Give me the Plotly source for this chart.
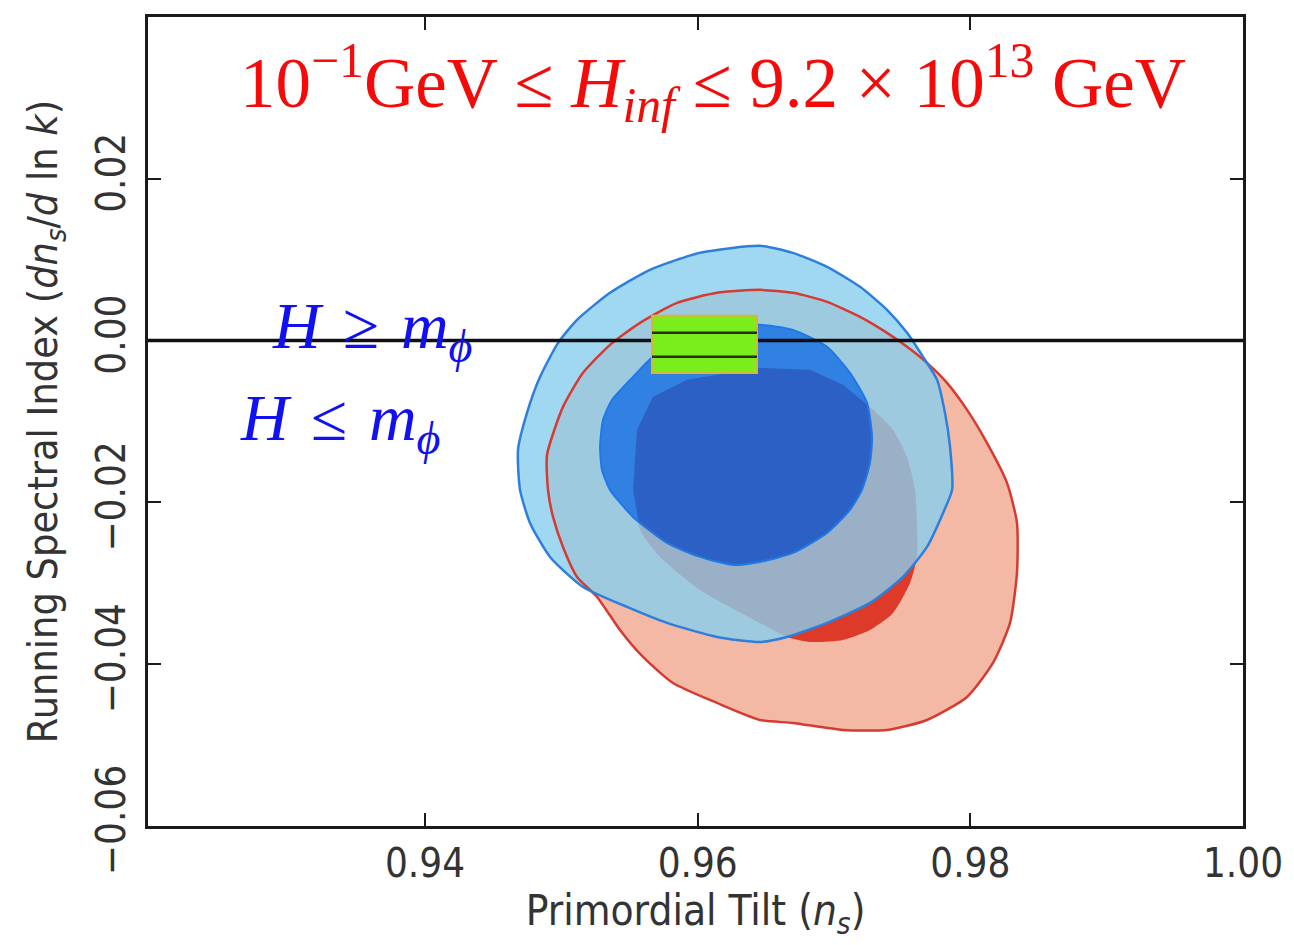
import plotly.graph_objects as go

# ---------------- data ----------------
# Outer (95%) contour of the red data set
red_outer_x = [0.96142, 0.96457, 0.96699, 0.96949, 0.97191, 0.97389, 0.97536, 0.97682,
               0.97829, 0.97976, 0.98122, 0.98269, 0.98342, 0.98342, 0.98291, 0.98166,
               0.97976, 0.97682, 0.97389, 0.97066, 0.96699, 0.96457, 0.96142, 0.95819,
               0.95599, 0.95430, 0.95262, 0.95115, 0.95012, 0.94939, 0.94902, 0.94895,
               0.95012, 0.95159, 0.95357, 0.95577, 0.95848]
red_outer_y = [0.005904, 0.006275, 0.005904, 0.004791, 0.002937, 0.000958, -0.000773, -0.002751,
               -0.005224, -0.008563, -0.012643, -0.017589, -0.022535, -0.028718, -0.034900, -0.039846,
               -0.044050, -0.046894, -0.048131, -0.048131, -0.047265, -0.046894, -0.044792, -0.042319,
               -0.039104, -0.035766, -0.031685, -0.029212, -0.025503, -0.021793, -0.018455, -0.014127,
               -0.008192, -0.003988, -0.000526, 0.002195, 0.004668]

# Inner (68%) contour of the red data set
red_inner_x = [0.95526, 0.95555, 0.95672, 0.95922, 0.96259, 0.96457, 0.96824, 0.97066,
               0.97264, 0.97433, 0.97536, 0.97594, 0.97609, 0.97609, 0.97558, 0.97433,
               0.97264, 0.97066, 0.96824, 0.96655, 0.96457, 0.96017, 0.95724, 0.95577]
red_inner_y = [-0.018455, -0.011036, -0.006955, -0.004853, -0.003864, -0.003369, -0.003617, -0.005472,
               -0.008192, -0.011036, -0.014374, -0.018455, -0.022783, -0.026739, -0.029954, -0.033664,
               -0.035766, -0.037002, -0.037250, -0.036631, -0.034900, -0.030820, -0.026739, -0.023401]

# Outer (95%) contour of the blue data set
blue_outer_x = [0.96017, 0.96457, 0.96699, 0.96949, 0.97191, 0.97389, 0.97536, 0.97653,
                0.97756, 0.97814, 0.97851, 0.97866, 0.97800, 0.97682, 0.97506, 0.97264,
                0.96949, 0.96655, 0.96457, 0.96142, 0.95775, 0.95482, 0.95159, 0.94917,
                0.94770, 0.94697, 0.94682, 0.94748, 0.94844, 0.94976, 0.95115, 0.95357,
                0.95650]
blue_outer_y = [0.010850, 0.011716, 0.010850, 0.009119, 0.006646, 0.003802, 0.000958, -0.002009,
                -0.004853, -0.008934, -0.013138, -0.018455, -0.021299, -0.025503, -0.029212, -0.032427,
                -0.034900, -0.036631, -0.037250, -0.036631, -0.034900, -0.032922, -0.030449, -0.026739,
                -0.022535, -0.018455, -0.013509, -0.008934, -0.004482, -0.000278, 0.002566, 0.005904,
                0.008748]

# Inner (68%) contour of the blue data set
blue_inner_x = [0.95284, 0.95306, 0.95372, 0.95526, 0.95672, 0.95944, 0.96201, 0.96457,
                0.96699, 0.96949, 0.97117, 0.97242, 0.97279, 0.97264, 0.97205, 0.97117,
                0.96949, 0.96699, 0.96457, 0.96259, 0.96017, 0.95775, 0.95526, 0.95357,
                0.95298]
blue_inner_y = [-0.013138, -0.009799, -0.007326, -0.004482, -0.002009, 0.000093, 0.001453, 0.001947,
                0.001329, -0.000773, -0.003988, -0.007697, -0.011901, -0.015116, -0.018455, -0.020928,
                -0.023772, -0.026245, -0.027358, -0.027729, -0.026739, -0.025008, -0.021793, -0.018455,
                -0.015982]

# Green prediction box and its internal lines
box_x = [0.95665, 0.96435]
box_y = [-0.00399, 0.00306]
box_lines_y = [0.00096, -0.00201]

# Horizontal reference line (zero running)
zero_line_y = 0.0

# Axes
x_range = [0.91968, 1.0]
y_range = [-0.06, 0.04]
x_ticks = [0.94, 0.96, 0.98, 1.00]
y_ticks = [-0.06, -0.04, -0.02, 0.00, 0.02]

title_text = "10<sup>−1</sup>GeV ≤ <i>H<sub>inf</sub></i> ≤ 9.2 × 10<sup>13</sup> GeV"
label_upper = "<i>H</i>\u2004≥\u2004<i>m<sub>ϕ</sub></i>"
label_lower = "<i>H</i>\u2004≤\u2004<i>m<sub>ϕ</sub></i>"
x_title = "Primordial Tilt (<i>n<sub>s</sub></i>)"
y_title = "Running Spectral Index (<i>dn<sub>s</sub></i>/<i>d</i> ln <i>k</i>)"


# ---------------- helpers ----------------
def clip_polygon(sx, sy, cx, cy):
    """Sutherland-Hodgman clipping of polygon (sx, sy) by polygon (cx, cy)."""
    subject = list(zip(sx, sy))
    clip = list(zip(cx, cy))
    area = 0.0
    for i in range(len(clip)):
        x1, y1 = clip[i]
        x2, y2 = clip[(i + 1) % len(clip)]
        area += x1 * y2 - x2 * y1
    sign = 1.0 if area > 0 else -1.0

    def inside(p, a, b):
        return sign * ((b[0] - a[0]) * (p[1] - a[1]) - (b[1] - a[1]) * (p[0] - a[0])) >= 0

    def intersect(p1, p2, a, b):
        x1, y1 = p1
        x2, y2 = p2
        x3, y3 = a
        x4, y4 = b
        den = (x1 - x2) * (y3 - y4) - (y1 - y2) * (x3 - x4)
        if den == 0:
            return p2
        t = ((x1 - x3) * (y3 - y4) - (y1 - y3) * (x3 - x4)) / den
        return (x1 + t * (x2 - x1), y1 + t * (y2 - y1))

    output = subject
    for i in range(len(clip)):
        a = clip[i]
        b = clip[(i + 1) % len(clip)]
        inp = output
        output = []
        if not inp:
            break
        s = inp[-1]
        for e in inp:
            if inside(e, a, b):
                if not inside(s, a, b):
                    output.append(intersect(s, e, a, b))
                output.append(e)
            elif inside(s, a, b):
                output.append(intersect(s, e, a, b))
            s = e
    return [p[0] for p in output], [p[1] for p in output]


def closed(xs, ys):
    return list(xs) + [xs[0]], list(ys) + [ys[0]]


# ---------------- figure ----------------
fig = go.Figure()

RED_LIGHT = "#f3b9a5"
RED_DARK = "#de3a2a"
RED_LINE = "#d63a30"
BLUE_LIGHT = "rgba(136,206,239,0.80)"
BLUE_DARK = "#3181e2"
BLUE_LINE = "#2d7fdc"
OVERLAP = "#2d60c4"

def fill_trace(xs, ys, color, smooth=True):
    x, y = closed(xs, ys)
    line = dict(width=0, color=color)
    if smooth:
        line.update(shape="spline", smoothing=0.6)
    return go.Scatter(x=x, y=y, mode="lines", fill="toself", fillcolor=color,
                      line=line, hoverinfo="skip", showlegend=False)

def line_trace(xs, ys, color, width):
    x, y = closed(xs, ys)
    return go.Scatter(x=x, y=y, mode="lines",
                      line=dict(width=width, color=color, shape="spline", smoothing=0.6),
                      hoverinfo="skip", showlegend=False)

fig.add_trace(fill_trace(red_outer_x, red_outer_y, RED_LIGHT))
fig.add_trace(fill_trace(red_inner_x, red_inner_y, RED_DARK))
fig.add_trace(fill_trace(blue_outer_x, blue_outer_y, BLUE_LIGHT))
fig.add_trace(fill_trace(blue_inner_x, blue_inner_y, BLUE_DARK))
ox, oy = clip_polygon(red_inner_x, red_inner_y, blue_inner_x, blue_inner_y)
if ox:
    fig.add_trace(fill_trace(ox, oy, OVERLAP, smooth=False))
fig.add_trace(line_trace(red_outer_x, red_outer_y, RED_LINE, 2.5))
fig.add_trace(line_trace(blue_outer_x, blue_outer_y, BLUE_LINE, 2.5))
fig.add_trace(line_trace(blue_inner_x, blue_inner_y, "#1f78e8", 2))

# horizontal zero line
fig.add_shape(type="line", xref="paper", x0=0, x1=1, yref="y", y0=zero_line_y, y1=zero_line_y,
              line=dict(color="#111111", width=3.5), layer="above")
# green box
fig.add_shape(type="rect", xref="x", yref="y", x0=box_x[0], x1=box_x[1], y0=box_y[0], y1=box_y[1],
              fillcolor="#7aed1c", line=dict(color="#d8b82a", width=2), layer="above")
for ly in box_lines_y:
    fig.add_shape(type="line", xref="x", yref="y", x0=box_x[0], x1=box_x[1], y0=ly, y1=ly,
                  line=dict(color="#2a2a2a", width=2.5), layer="above")

SERIF = "Liberation Serif, Times New Roman, serif"
SANS = "Liberation Sans Narrow, DejaVu Sans Condensed, Roboto Condensed, Liberation Sans, sans-serif"

fig.add_annotation(text=title_text, xref="paper", yref="paper", x=0.516, y=0.918,
                   xanchor="center", yanchor="middle", showarrow=False,
                   font=dict(family=SERIF, size=71, color="#f50a0a"))
fig.add_annotation(text=label_upper, xref="paper", yref="paper", x=0.1114, y=0.613,
                   xanchor="left", yanchor="middle", showarrow=False,
                   font=dict(family=SERIF, size=66, color="#1010f0"))
fig.add_annotation(text=label_lower, xref="paper", yref="paper", x=0.0822, y=0.499,
                   xanchor="left", yanchor="middle", showarrow=False,
                   font=dict(family=SERIF, size=66, color="#1010f0"))

axis_common = dict(showgrid=False, zeroline=False, showline=True, linewidth=3, linecolor="#1a1a1a",
                   mirror="ticks", ticks="inside", ticklen=13, tickwidth=2, tickcolor="#1a1a1a",
                   tickfont=dict(family=SANS, size=40, color="#333333"), tickformat=".2f")

# the page adds an 8 px body margin, so the figure is 8 px smaller than the window
fig.update_layout(
    width=1286, height=937,
    margin=dict(l=140, r=51, t=9, b=119, autoexpand=False),
    paper_bgcolor="white", plot_bgcolor="white",
    xaxis=dict(range=x_range, tickvals=x_ticks, **axis_common,
               title=dict(text=x_title, font=dict(family=SANS, size=42, color="#333333"), standoff=6)),
    yaxis=dict(range=y_range, tickvals=y_ticks, tickangle=-90, ticklabelstandoff=4, **axis_common,
               title=dict(text=y_title, font=dict(family=SANS, size=41, color="#333333"), standoff=18)),
)

fig.write_html("out.html")
